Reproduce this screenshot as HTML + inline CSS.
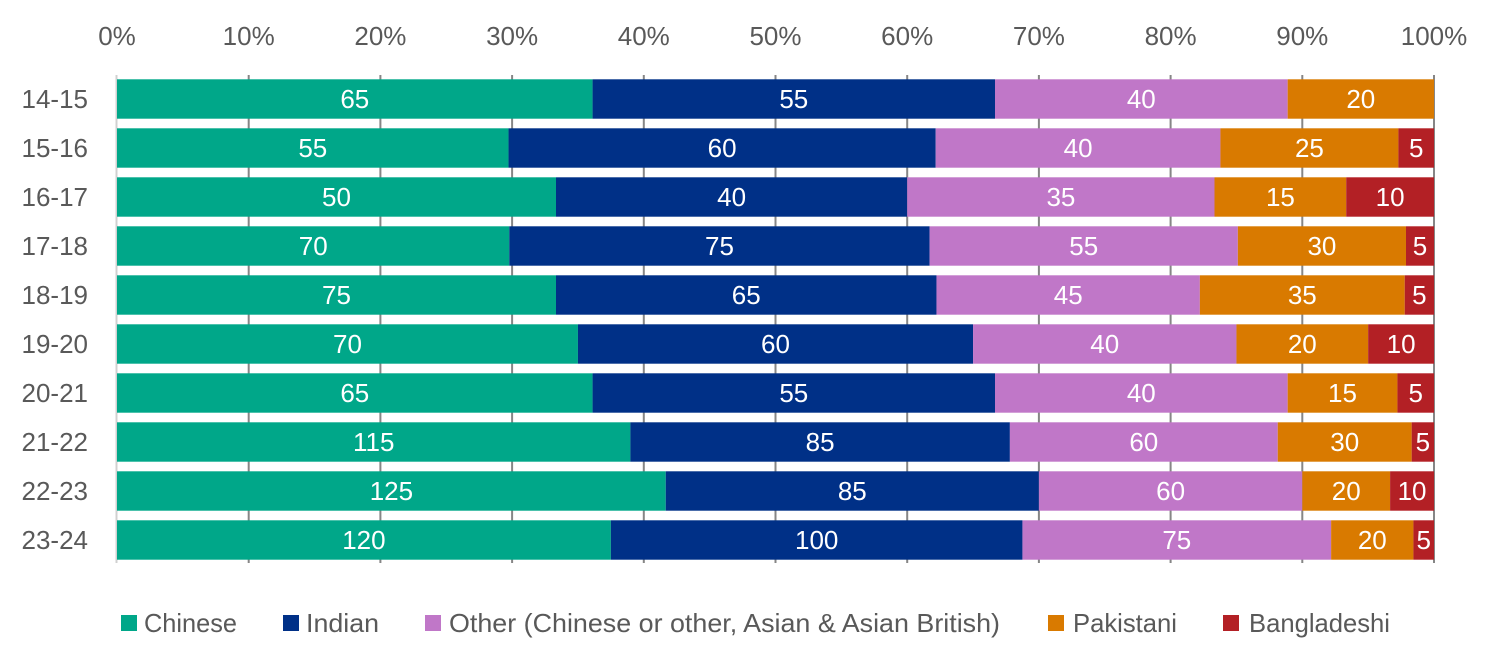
<!DOCTYPE html>
<html><head><meta charset="utf-8"><style>
html,body{margin:0;padding:0;background:#fff;}
svg{display:block;}
text{font-family:"Liberation Sans",sans-serif;}
.ax{fill:#595959;font-size:26px;}
.dl{fill:#fff;font-size:26px;text-anchor:middle;}
</style></head><body>
<svg width="1500" height="668" viewBox="0 0 1500 668" xmlns="http://www.w3.org/2000/svg">
<rect width="1500" height="668" fill="#fff"/>
<!-- gridlines -->
<g stroke="#868686" stroke-width="2">
<line x1="248.7" y1="75" x2="248.7" y2="563"/>
<line x1="380.4" y1="75" x2="380.4" y2="563"/>
<line x1="512.1" y1="75" x2="512.1" y2="563"/>
<line x1="643.8" y1="75" x2="643.8" y2="563"/>
<line x1="775.5" y1="75" x2="775.5" y2="563"/>
<line x1="907.2" y1="75" x2="907.2" y2="563"/>
<line x1="1038.9" y1="75" x2="1038.9" y2="563"/>
<line x1="1170.6" y1="75" x2="1170.6" y2="563"/>
<line x1="1302.3" y1="75" x2="1302.3" y2="563"/>
<line x1="1434" y1="75" x2="1434" y2="563"/>
</g>
<line x1="116.5" y1="75" x2="116.5" y2="563" stroke="#d0d0d0" stroke-width="2"/>
<!-- tick labels -->
<g class="ax" text-anchor="middle">
<text x="117" y="45">0%</text>
<text x="248.7" y="45">10%</text>
<text x="380.4" y="45">20%</text>
<text x="512.1" y="45">30%</text>
<text x="643.8" y="45">40%</text>
<text x="775.5" y="45">50%</text>
<text x="907.2" y="45">60%</text>
<text x="1038.9" y="45">70%</text>
<text x="1170.6" y="45">80%</text>
<text x="1302.3" y="45">90%</text>
<text x="1434" y="45">100%</text>
</g>
<!-- category labels -->
<g class="ax" text-anchor="end">
<text x="88" y="108">14-15</text>
<text x="88" y="157">15-16</text>
<text x="88" y="206">16-17</text>
<text x="88" y="255">17-18</text>
<text x="88" y="304">18-19</text>
<text x="88" y="353">19-20</text>
<text x="88" y="402">20-21</text>
<text x="88" y="451">21-22</text>
<text x="88" y="500">22-23</text>
<text x="88" y="549">23-24</text>
</g>
<!-- bars -->
<g>
<!-- 14-15 -->
<rect x="117" y="79.3" width="475.58" height="39.4" fill="#00A789"/>
<rect x="592.58" y="79.3" width="402.42" height="39.4" fill="#003087"/>
<rect x="995" y="79.3" width="292.67" height="39.4" fill="#C077C8"/>
<rect x="1287.67" y="79.3" width="146.33" height="39.4" fill="#D97A00"/>
<!-- 15-16 -->
<rect x="117" y="128.3" width="391.54" height="39.4" fill="#00A789"/>
<rect x="508.54" y="128.3" width="427.14" height="39.4" fill="#003087"/>
<rect x="935.68" y="128.3" width="284.75" height="39.4" fill="#C077C8"/>
<rect x="1220.43" y="128.3" width="177.97" height="39.4" fill="#D97A00"/>
<rect x="1398.4" y="128.3" width="35.6" height="39.4" fill="#B32025"/>
<!-- 16-17 -->
<rect x="117" y="177.3" width="439" height="39.4" fill="#00A789"/>
<rect x="556" y="177.3" width="351.2" height="39.4" fill="#003087"/>
<rect x="907.2" y="177.3" width="307.3" height="39.4" fill="#C077C8"/>
<rect x="1214.5" y="177.3" width="131.7" height="39.4" fill="#D97A00"/>
<rect x="1346.2" y="177.3" width="87.8" height="39.4" fill="#B32025"/>
<!-- 17-18 -->
<rect x="117" y="226.3" width="392.3" height="39.4" fill="#00A789"/>
<rect x="509.3" y="226.3" width="420.31" height="39.4" fill="#003087"/>
<rect x="929.61" y="226.3" width="308.24" height="39.4" fill="#C077C8"/>
<rect x="1237.85" y="226.3" width="168.13" height="39.4" fill="#D97A00"/>
<rect x="1405.98" y="226.3" width="28.02" height="39.4" fill="#B32025"/>
<!-- 18-19 -->
<rect x="117" y="275.3" width="439" height="39.4" fill="#00A789"/>
<rect x="556" y="275.3" width="380.47" height="39.4" fill="#003087"/>
<rect x="936.47" y="275.3" width="263.4" height="39.4" fill="#C077C8"/>
<rect x="1199.87" y="275.3" width="204.86" height="39.4" fill="#D97A00"/>
<rect x="1404.73" y="275.3" width="29.27" height="39.4" fill="#B32025"/>
<!-- 19-20 -->
<rect x="117" y="324.3" width="460.95" height="39.4" fill="#00A789"/>
<rect x="577.95" y="324.3" width="395.1" height="39.4" fill="#003087"/>
<rect x="973.05" y="324.3" width="263.4" height="39.4" fill="#C077C8"/>
<rect x="1236.45" y="324.3" width="131.7" height="39.4" fill="#D97A00"/>
<rect x="1368.15" y="324.3" width="65.85" height="39.4" fill="#B32025"/>
<!-- 20-21 -->
<rect x="117" y="373.3" width="475.58" height="39.4" fill="#00A789"/>
<rect x="592.58" y="373.3" width="402.42" height="39.4" fill="#003087"/>
<rect x="995" y="373.3" width="292.67" height="39.4" fill="#C077C8"/>
<rect x="1287.67" y="373.3" width="109.75" height="39.4" fill="#D97A00"/>
<rect x="1397.42" y="373.3" width="36.58" height="39.4" fill="#B32025"/>
<!-- 21-22 -->
<rect x="117" y="422.3" width="513.4" height="39.4" fill="#00A789"/>
<rect x="630.4" y="422.3" width="379.48" height="39.4" fill="#003087"/>
<rect x="1009.88" y="422.3" width="267.87" height="39.4" fill="#C077C8"/>
<rect x="1277.75" y="422.3" width="133.93" height="39.4" fill="#D97A00"/>
<rect x="1411.68" y="422.3" width="22.32" height="39.4" fill="#B32025"/>
<!-- 22-23 -->
<rect x="117" y="471.3" width="548.75" height="39.4" fill="#00A789"/>
<rect x="665.75" y="471.3" width="373.15" height="39.4" fill="#003087"/>
<rect x="1038.9" y="471.3" width="263.4" height="39.4" fill="#C077C8"/>
<rect x="1302.3" y="471.3" width="87.8" height="39.4" fill="#D97A00"/>
<rect x="1390.1" y="471.3" width="43.9" height="39.4" fill="#B32025"/>
<!-- 23-24 -->
<rect x="117" y="520.3" width="493.88" height="39.4" fill="#00A789"/>
<rect x="610.88" y="520.3" width="411.56" height="39.4" fill="#003087"/>
<rect x="1022.44" y="520.3" width="308.68" height="39.4" fill="#C077C8"/>
<rect x="1331.12" y="520.3" width="82.3" height="39.4" fill="#D97A00"/>
<rect x="1413.42" y="520.3" width="20.58" height="39.4" fill="#B32025"/>
</g>
<!-- data labels -->
<g class="dl">
<text x="354.8" y="108">65</text><text x="793.8" y="108">55</text><text x="1141.3" y="108">40</text><text x="1360.8" y="108">20</text>
<text x="312.8" y="157">55</text><text x="722.1" y="157">60</text><text x="1078.1" y="157">40</text><text x="1309.4" y="157">25</text><text x="1416.2" y="157">5</text>
<text x="336.5" y="206">50</text><text x="731.6" y="206">40</text><text x="1060.9" y="206">35</text><text x="1280.4" y="206">15</text><text x="1390.1" y="206">10</text>
<text x="313.2" y="255">70</text><text x="719.5" y="255">75</text><text x="1083.7" y="255">55</text><text x="1321.9" y="255">30</text><text x="1420" y="255">5</text>
<text x="336.5" y="304">75</text><text x="746.2" y="304">65</text><text x="1068.2" y="304">45</text><text x="1302.3" y="304">35</text><text x="1419.4" y="304">5</text>
<text x="347.5" y="353">70</text><text x="775.5" y="353">60</text><text x="1104.75" y="353">40</text><text x="1302.3" y="353">20</text><text x="1401.1" y="353">10</text>
<text x="354.8" y="402">65</text><text x="793.8" y="402">55</text><text x="1141.3" y="402">40</text><text x="1342.5" y="402">15</text><text x="1415.7" y="402">5</text>
<text x="373.7" y="451">115</text><text x="820.1" y="451">85</text><text x="1143.8" y="451">60</text><text x="1344.7" y="451">30</text><text x="1422.8" y="451">5</text>
<text x="391.4" y="500">125</text><text x="852.3" y="500">85</text><text x="1170.6" y="500">60</text><text x="1346.2" y="500">20</text><text x="1412.05" y="500">10</text>
<text x="363.9" y="549">120</text><text x="816.7" y="549">100</text><text x="1176.8" y="549">75</text><text x="1372.3" y="549">20</text><text x="1423.7" y="549">5</text>
</g>
<!-- legend -->
<rect x="121" y="615" width="16" height="16" fill="#00A789"/>
<text class="ax" x="144" y="632" textLength="93" lengthAdjust="spacingAndGlyphs">Chinese</text>
<rect x="283" y="615" width="16" height="16" fill="#003087"/>
<text class="ax" x="306" y="632" textLength="73" lengthAdjust="spacingAndGlyphs">Indian</text>
<rect x="425" y="615" width="16" height="16" fill="#C077C8"/>
<text class="ax" x="449" y="632" textLength="551" lengthAdjust="spacingAndGlyphs">Other (Chinese or other, Asian &amp; Asian British)</text>
<rect x="1048" y="615" width="16" height="16" fill="#D97A00"/>
<text class="ax" x="1073" y="632" textLength="104" lengthAdjust="spacingAndGlyphs">Pakistani</text>
<rect x="1223" y="615" width="16" height="16" fill="#B32025"/>
<text class="ax" x="1249" y="632" textLength="141" lengthAdjust="spacingAndGlyphs">Bangladeshi</text>
</svg>
</body></html>
